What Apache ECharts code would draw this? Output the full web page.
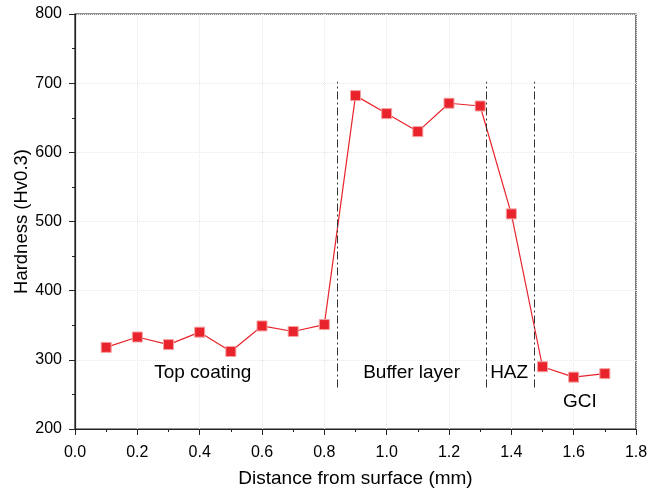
<!DOCTYPE html>
<html>
<head>
<meta charset="utf-8">
<script src="https://cdn.jsdelivr.net/npm/echarts@6/dist/echarts.min.js"></script>
<style>
  html, body { margin: 0; padding: 0; background: #fff; }
  #chart { width: 654px; height: 491px; }
</style>
</head>
<body>
<div id="chart"></div>
<script>
// hardness profile
var distance = [0.1, 0.2, 0.3, 0.4, 0.5, 0.6, 0.7, 0.8, 0.9, 1.0, 1.1, 1.2, 1.3, 1.4, 1.5, 1.6, 1.7];
var hardness = [318, 333, 322, 340, 312, 349, 341, 351, 682, 656, 630, 671, 667, 511, 290, 275, 280];

// zone boundaries (dash-dot lines)
var boundaryX = [0.843, 1.319, 1.472];
var boundaryRange = [260, 702];

// zone labels
var zoneNames = ['Top coating', 'Buffer layer', 'HAZ', 'GCI'];
var zoneX = [0.41, 1.08, 1.393, 1.62];
var zoneY = [281, 281, 281, 239];

var chart = echarts.init(document.getElementById('chart'));
var font = 'Liberation Sans, Arial, sans-serif';
var red = '#e8232b';

var lines = boundaryX.map(function (x) {
  return [{ coord: [x, boundaryRange[0]] }, { coord: [x, boundaryRange[1]] }];
});
var labelPoints = zoneNames.map(function (n, i) {
  return { name: n, coord: [zoneX[i], zoneY[i]], value: n };
});

var option = {
  animation: false,
  backgroundColor: '#fff',
  grid: {
    left: 75, right: 18, top: 14, bottom: 62,
    outerBoundsMode: 'none',
    containLabel: false,
    show: true, borderColor: '#222', borderWidth: 1.2, backgroundColor: 'transparent'
  },
  xAxis: {
    type: 'value',
    min: 0, max: 1.8, interval: 0.2,
    name: 'Distance from surface (mm)',
    nameLocation: 'middle',
    nameMoveOverlap: false,
    nameGap: 40,
    nameTextStyle: { fontFamily: font, fontSize: 19, color: '#000' },
    axisLine: { lineStyle: { color: '#222', width: 1.2 } },
    axisTick: { length: 6, lineStyle: { color: '#222' } },
    minorTick: { show: true, splitNumber: 2, length: 3, lineStyle: { color: '#222' } },
    axisLabel: {
      fontFamily: font, fontSize: 16, color: '#000', margin: 16,
      formatter: function (v) { return v.toFixed(1); }
    },
    splitLine: { show: true, lineStyle: { color: '#e8e8e8', type: 'dotted' } }
  },
  yAxis: {
    type: 'value',
    min: 200, max: 800, interval: 100,
    name: 'Hardness (Hv0.3)',
    nameLocation: 'middle',
    nameMoveOverlap: false,
    nameGap: 44,
    nameTextStyle: { fontFamily: font, fontSize: 18.5, color: '#000' },
    axisLine: { show: true, lineStyle: { color: '#222', width: 1.2 } },
    axisTick: { show: true, length: 6, lineStyle: { color: '#222' } },
    minorTick: { show: true, splitNumber: 2, length: 3, lineStyle: { color: '#222' } },
    axisLabel: { fontFamily: font, fontSize: 16, color: '#000', margin: 13 },
    splitLine: { show: true, lineStyle: { color: '#e8e8e8', type: 'dotted' } }
  },
  series: [
    {
      type: 'line',
      data: distance.map(function (d, i) { return [d, hardness[i]]; }),
      symbol: 'rect',
      symbolSize: 10,
      lineStyle: { color: red, width: 1.2 },
      itemStyle: { color: red, borderColor: '#f5a0a0', borderWidth: 1 },
      markLine: {
        symbol: 'none',
        silent: true,
        label: { show: false },
        lineStyle: { color: '#333', width: 1, type: [8, 3, 2, 3] },
        data: lines
      },
      markPoint: {
        symbol: 'circle',
        symbolSize: 0,
        silent: true,
        itemStyle: { color: '#000' },
        label: {
          show: true,
          position: 'inside',
          formatter: function (p) { return p.name; },
          fontFamily: font,
          fontSize: 19,
          color: '#000',
          opacity: 1
        },
        data: labelPoints
      },
      z: 3
    }
  ]
};
chart.setOption(option);
</script>
</body>
</html>
